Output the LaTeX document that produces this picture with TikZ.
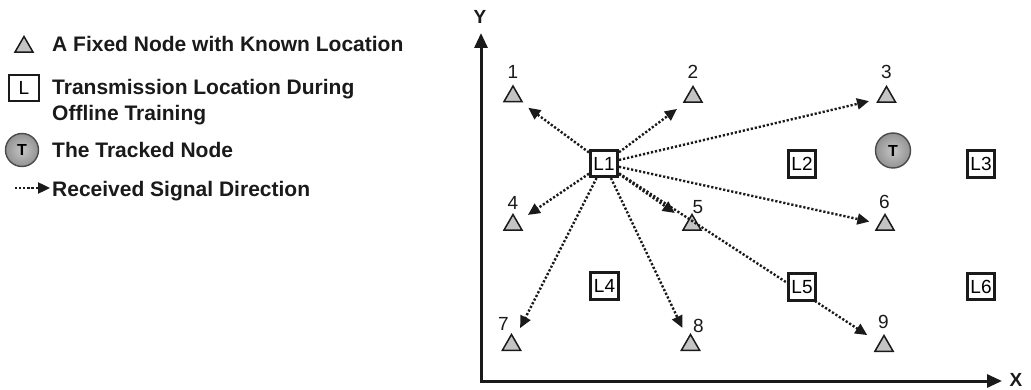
\documentclass[tikz,border=0pt]{standalone}
\usepackage{fontspec}
\setmainfont{Liberation Sans}
\usetikzlibrary{arrows.meta,shapes.geometric}
\definecolor{trigray}{HTML}{C4C4C4}
\definecolor{ink}{HTML}{1A1A1A}
\definecolor{ringgray}{HTML}{4A4A4A}
\begin{document}
\begin{tikzpicture}[x=1pt,y=-1pt,
  tri/.style={regular polygon,regular polygon sides=3,minimum size=21pt,inner sep=0pt,draw=ink,line width=1.5pt,fill=trigray},
  lbox/.style={draw=ink,line width=2.6pt,fill=white,minimum width=27.5pt,minimum height=26.5pt,inner sep=0pt,font=\fontsize{19}{19}\selectfont},
  num/.style={font=\fontsize{19}{19}\selectfont,inner sep=0pt,text=ink},
  legtext/.style={font=\fontsize{21}{26}\selectfont\bfseries,anchor=base west,inner sep=0pt,text=ink},
  sig/.style={draw=ink,line width=2.4pt,dash pattern=on 2.2pt off 1.9pt,-{Triangle[length=12pt,width=11pt]}},
  tracked/.style={circle,draw=ringgray,line width=1.4pt,inner sep=0pt,inner color=gray!45,outer color=gray!85,font=\fontsize{16}{16}\selectfont\bfseries},
  axis/.style={draw=ink,line width=3pt,{Triangle[length=15pt,width=13pt]}-{Triangle[length=15pt,width=13pt]}},
  axlab/.style={font=\fontsize{19}{19}\selectfont\bfseries,inner sep=0pt,text=ink}
]
\fill[white] (0,0) rectangle (1031,390);
\useasboundingbox (0,0) rectangle (1031,390);

% axes
\coordinate (ytip) at (481,33);
\coordinate (O) at (481,381);
\coordinate (xtip) at (1002,381);
\draw[axis] (ytip) -- (O) -- (xtip);
\node[axlab] (ylab) at (480,17) {Y};
\node[axlab] (xlab) at (1016,380) {X};

% legend
\node[tri] (legtri) at (24,47) {};
\node[legtext] (legtxt1) at (52,52) {A Fixed Node with Known Location};
\node[lbox,line width=2.2pt,minimum width=30pt] (legbox) at (24,88) {L};
\node[legtext] (legtxt2) at (52,95) {\vtop{\hbox{Transmission Location During}\hbox{Offline Training}}};
\node[tracked,minimum size=33pt] (legT) at (22,150) {T};
\node[legtext] (legtxt3) at (52,158) {The Tracked Node};
\coordinate (legA) at (15,188);
\coordinate (legB) at (50,188);
\draw[sig] (legA) -- (legB);
\node[legtext] (legtxt4) at (52,197) {Received Signal Direction};

% fixed nodes
\node[tri] (t1) at (513,96.5) {};
\node[tri] (t2) at (693,97) {};
\node[tri] (t3) at (886.5,97) {};
\node[tri] (t4) at (513,225) {};
\node[tri] (t5) at (692,225) {};
\node[tri] (t6) at (885,225) {};
\node[tri] (t7) at (511.5,345) {};
\node[tri] (t8) at (690.5,345) {};
\node[tri] (t9) at (884,346) {};
\node[num] (n1) at (513,72) {1};
\node[num] (n2) at (693,72) {2};
\node[num] (n3) at (886.5,72) {3};
\node[num] (n4) at (513,203) {4};
\node[num] (n5) at (698,207) {5};
\node[num] (n6) at (884.5,202) {6};
\node[num] (n7) at (503.5,323.5) {7};
\node[num] (n8) at (698.5,326) {8};
\node[num] (n9) at (883.5,322) {9};

% training locations
\node[lbox] (L1) at (604,163.5) {L1};
\node[lbox] (L2) at (802,164) {L2};
\node[lbox] (L3) at (981,164) {L3};
\node[lbox] (L4) at (604.5,286) {L4};
\node[lbox] (L6) at (981,286.5) {L6};

% tracked node
\node[tracked,minimum size=35pt] (T) at (893,150.5) {T};

% signals
\draw[sig,shorten >=19pt] (L1) -- (t1.center);
\draw[sig,shorten >=20pt] (L1) -- (t2.center);
\draw[sig,shorten >=18pt] (L1) -- (t3.center);
\draw[sig,shorten >=18pt] (L1) -- (t4.center);
\draw[sig,shorten >=21pt] (L1) -- (t5.center);
\draw[sig,shorten >=16pt] (L1) -- (t6.center);
\draw[sig,shorten >=19pt] (L1) -- (t7.center);
\draw[sig,shorten >=19pt] (L1) -- (t8.center);
\draw[sig,shorten >=20pt] (L1) -- (t9.center);

\node[lbox] (L5) at (802,287) {L5};
\end{tikzpicture}
\end{document}
